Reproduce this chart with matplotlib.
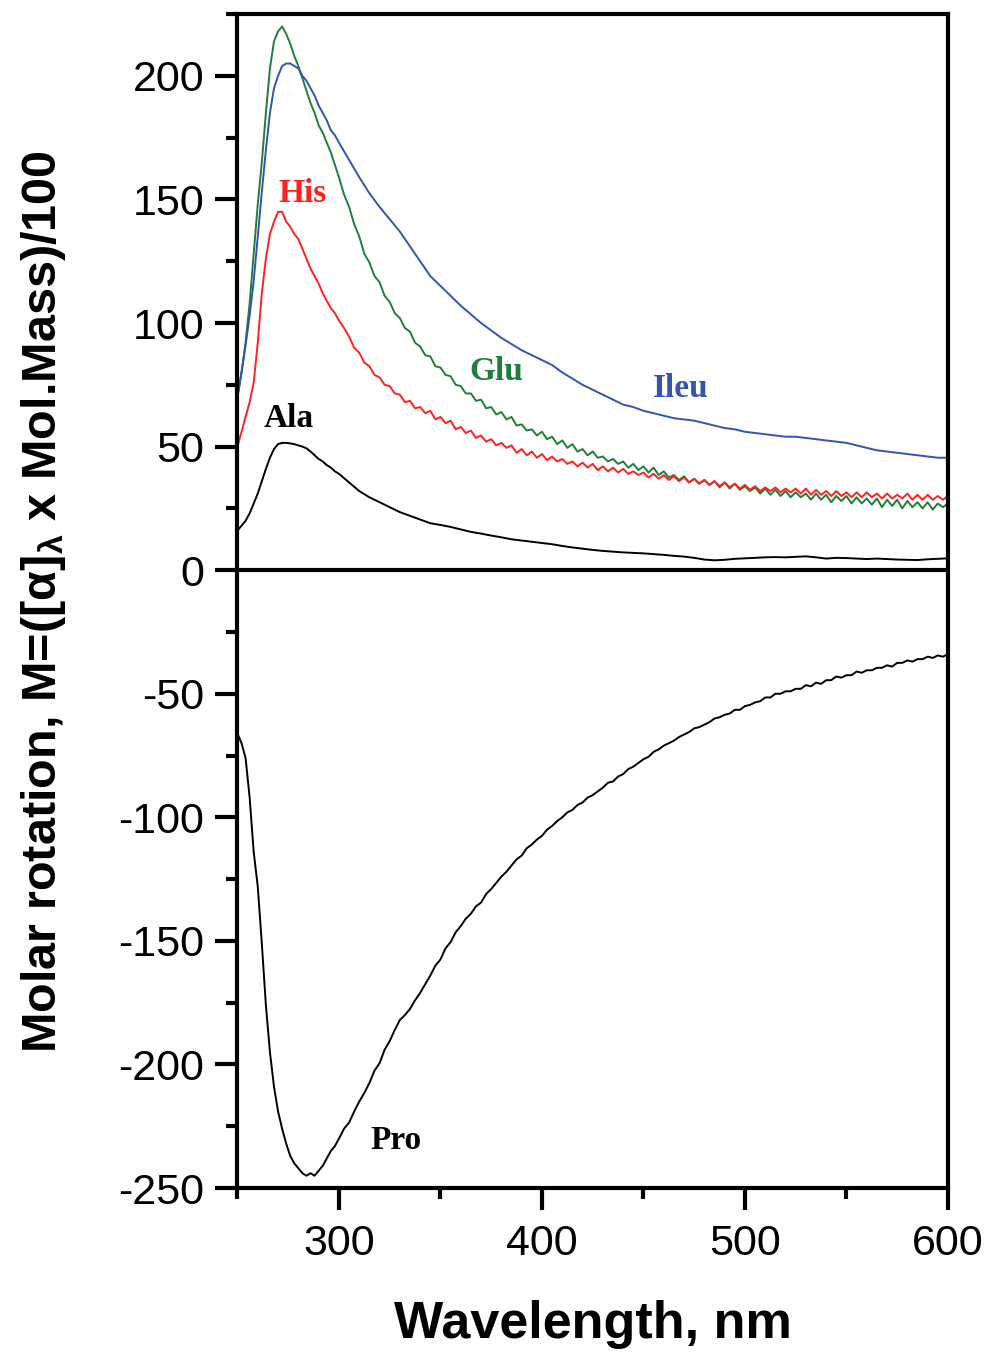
import matplotlib
matplotlib.use("Agg")
import matplotlib.pyplot as plt
from matplotlib.ticker import MultipleLocator, FixedLocator

plt.rcParams['font.family'] = ['Liberation Sans', 'DejaVu Sans']
plt.rcParams['mathtext.fontset'] = 'custom'
plt.rcParams['mathtext.rm'] = 'Liberation Sans:bold'
plt.rcParams['mathtext.it'] = 'Liberation Sans:bold'
plt.rcParams['mathtext.bf'] = 'Liberation Sans:bold'

# ---- wavelength grids (nm) ----
wl_peak = [250, 252, 254, 256, 258, 260, 262, 264, 266, 268, 270, 272, 274, 276, 278,
           280, 282, 284, 286, 288, 290, 292, 294, 296, 298, 300]
wl_coarse_tail = [305, 310, 315, 320, 325, 330, 335, 340, 345, 350, 355, 360, 365, 370, 375,
                  380, 385, 390, 395, 400, 405, 410, 415, 420, 425, 430, 435, 440, 445, 450,
                  455, 460, 465, 470, 475, 480, 485, 490, 495, 500, 505, 510, 515, 520, 525,
                  530, 535, 540, 545, 550, 555, 560, 565, 570, 575, 580, 585, 590, 595, 600]
wl_fine_tail = [302.5 + 2.5 * i for i in range(120)]  # 302.5 ... 600
wl_coarse = wl_peak + wl_coarse_tail
wl_fine = wl_peak + wl_fine_tail

# ---- Glu (green), fine grid ----
glu = [70, 80, 92, 108, 128, 148, 165, 185, 203, 214, 218, 220, 217, 213, 208,
       204, 199, 194, 189, 185, 180, 177, 173, 169, 164, 159,
       152, 147, 140, 135, 128, 124.5, 119, 116.5, 111, 108.5,
       104, 102, 98, 96.5, 92, 90.5, 87, 86.5, 82.5, 82,
       79, 78.5, 75, 74.5, 71.5, 71.5, 68.5, 69, 65.5, 66,
       63, 64, 61, 62, 58.5, 59, 56.5, 57, 54.5, 56,
       53, 54, 51, 52.5, 49.5, 51, 48, 49, 46.5, 48,
       45.5, 46, 44, 45, 43, 44, 41.5, 43, 40.5, 42,
       39.5, 41.5, 38.5, 40, 37.5, 38.5, 36.5, 38, 35.5, 37,
       35, 36.5, 34.5, 36, 33.5, 35.5, 33, 35, 32.5, 34,
       32, 33.5, 31, 33, 30.5, 32.5, 30, 32, 29.5, 31.5,
       29.5, 31, 28.5, 31, 28.5, 30.5, 27.5, 30, 28, 30,
       27, 29.5, 27, 29, 26.5, 29, 25.5, 28.5, 26, 28.5,
       25, 28, 25.5, 27.5, 25, 27.5, 24.5, 27, 25.5, 27]

# ---- His (red), fine grid ----
his = [50, 56, 62, 68, 76, 92, 112, 126, 136, 141, 145, 145, 141, 139, 136,
       134, 130, 126, 122, 119, 116, 112, 109, 106, 104, 101,
       98, 94.5, 90, 88, 84, 82.5, 79, 78, 75, 74.5,
       71.5, 71, 68, 68.5, 65.5, 66, 63.5, 64.5, 61, 62,
       59.5, 60.5, 57, 58, 55.5, 56.5, 53.5, 54.5, 52, 53,
       50.5, 51.5, 49.5, 50.5, 47.5, 49, 46.5, 48, 45.5, 47,
       44.5, 46, 44, 45, 43, 44, 42, 43.5, 41.5, 43,
       40.5, 42, 40, 41.5, 39.5, 41, 39, 40, 38.5, 39.5,
       37.5, 39, 37, 38.5, 36.5, 38, 36, 37.5, 35.5, 37,
       35, 36.5, 34.5, 36, 34, 35.5, 33.5, 35, 33, 34.5,
       32.5, 34, 32, 33.5, 32, 33.5, 31.5, 33, 31.5, 33,
       31, 33, 30.5, 32.5, 30.5, 32, 30, 32, 30, 31.5,
       29.5, 31.5, 29.5, 31.5, 29.5, 31, 29, 31, 29, 30.5,
       29, 31, 28.5, 30.5, 28.5, 30.5, 28.5, 30, 28.5, 30]

# ---- Pro (black, negative), fine grid ----
pro = [-66, -70, -76, -92, -114, -128, -151, -176, -195, -209, -219, -226, -232, -237, -240,
       -242, -244, -245, -244, -245, -243, -241, -238, -235, -233, -230,
       -226, -223.5, -219, -215, -211.5, -207.5, -202.5, -199.5, -194, -190.5,
       -186, -182, -180, -177.5, -174, -171, -167.5, -164, -160, -157.5,
       -153, -150.5, -146.5, -144, -141, -139, -136, -134.5, -131, -129,
       -126.5, -124, -122, -119.5, -117, -115.5, -112.5, -111, -109, -107.5,
       -105, -103.5, -101.5, -100, -98, -97, -95, -94, -92, -91,
       -89.5, -88, -86, -85.5, -83.5, -82.5, -80.5, -79.5, -78, -76.5,
       -75.5, -73.5, -72.5, -71, -70, -69, -67.5, -66.5, -65.5, -64,
       -63.5, -62.5, -61.5, -60, -59.5, -58.5, -58, -56.5, -56.5, -55,
       -54.5, -53.5, -53, -51.5, -51.5, -50, -50, -49, -49, -48,
       -48, -46.5, -47, -45.5, -46, -44.5, -44.5, -43, -43.5, -42.5,
       -42.5, -41, -41.5, -40.5, -40.5, -39.5, -39.5, -38.5, -39, -37.5,
       -37.5, -36.5, -37, -36, -36, -35, -35.5, -34.5, -35, -34]

# ---- Ileu (blue), coarse grid ----
ileu = [70, 80, 91, 103, 117, 135, 153, 170, 185, 195, 200, 204, 205, 205, 204,
        203, 200, 198, 195, 192, 188, 185, 182, 178, 176, 173,
        166, 159, 152.5, 147, 142, 137, 131, 125, 119, 115, 111, 107, 103.5, 100, 97,
        94, 91.5, 89, 87, 85, 83, 80, 77.5, 75, 73, 71, 69, 67, 66, 64.5,
        63.5, 62.5, 61.5, 61, 60.5, 59.5, 58.5, 57.5, 57, 56, 55.5, 55, 54.5, 54, 54,
        53.5, 53, 52.5, 52, 51.5, 50.5, 49.5, 48.5, 48, 47.5, 47, 46.5, 46, 45.5, 45.5]

# ---- Ala (black), coarse grid ----
ala = [16, 18, 20, 23, 27, 31, 36, 41, 45.5, 49, 51, 51.5, 51.5, 51.3, 51,
       50.5, 50, 49.3, 48, 46.5, 45, 44, 42.5, 41.5, 40, 39,
       35.5, 32, 29.5, 27.5, 25.5, 23.5, 22, 20.5, 19, 18.3, 17.5, 16.5, 15.5, 14.8, 14,
       13.3, 12.5, 12, 11.5, 11, 10.5, 9.8, 9.2, 8.7, 8.2, 7.8, 7.5, 7.2, 7, 6.8,
       6.5, 6.2, 5.8, 5.5, 5, 4.3, 4, 4.2, 4.6, 4.8, 5.0, 5.2, 5.3, 5.2, 5.4,
       5.6, 5.2, 4.7, 5, 4.9, 4.7, 4.5, 4.7, 4.5, 4.3, 4.2, 4.1, 4.4, 4.6, 4.8]

series = [
    (wl_fine, glu, '#1f7f3a'),
    (wl_coarse, ileu, '#3553b0'),
    (wl_fine, his, '#ff2020'),
    (wl_coarse, ala, '#000000'),
    (wl_fine, pro, '#000000'),
]

labels = [
    ('His', 281.8, 149, '#ff2020'),
    ('Glu', 377.3, 77, '#1f7f3a'),
    ('Ileu', 468.5, 70, '#3553b0'),
    ('Ala', 275.4, 58, '#000000'),
    ('Pro', 328.0, -234, '#000000'),
]

fig = plt.figure(figsize=(9.89, 13.55), dpi=100)
ax = fig.add_axes([0.2401, 0.1232, 0.7184, 0.8664])

for xs, vals, col in series:
    n = min(len(xs), len(vals))
    ax.plot(xs[:n], vals[:n], color=col, lw=1.4)

ax.axhline(0, color='black', lw=3, zorder=5)

for txt, x, y, col in labels:
    ax.text(x, y, txt, color=col, fontsize=24, fontweight='bold',
            family=['Liberation Serif', 'DejaVu Serif'], ha='center', va='baseline')

ax.set_xlim(250, 600)
ax.set_ylim(-250, 225)
ax.xaxis.set_major_locator(FixedLocator([300, 400, 500, 600]))
ax.xaxis.set_minor_locator(FixedLocator([250, 350, 450, 550]))
ax.yaxis.set_major_locator(FixedLocator([-250, -200, -150, -100, -50, 0, 50, 100, 150, 200]))
ax.yaxis.set_minor_locator(MultipleLocator(25))
ax.set_yticklabels(['-250', '-200', '-150', '-100', '-50', '0', '50', '100', '150', '200'])

for s in ax.spines.values():
    s.set_linewidth(3)
ax.tick_params(which='major', direction='out', length=16, width=3, labelsize=31, pad=8)
ax.tick_params(which='minor', direction='out', length=8, width=3)
ax.tick_params(axis='x', pad=10)

ax.set_xlabel('Wavelength, nm', fontsize=37.5, fontweight='bold', labelpad=26)
ax.set_ylabel(r'Molar rotation, M=([α]$_{\lambda}$ x Mol.Mass)/100', fontsize=35,
              fontweight='bold', labelpad=36)

fig.savefig('out.png', dpi=100)
